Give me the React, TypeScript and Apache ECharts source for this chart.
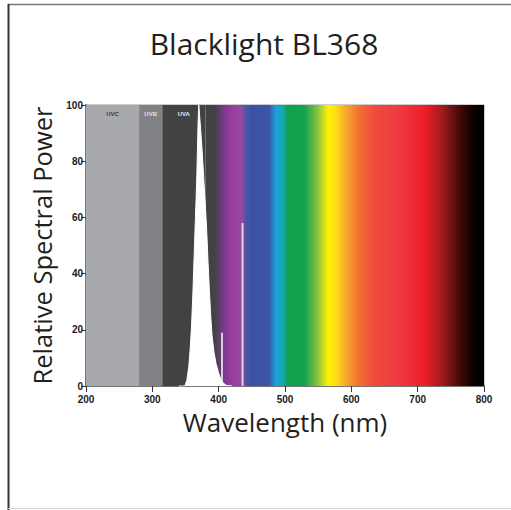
import React, { useEffect, useRef } from "react";
import * as echarts from "echarts";

const titleText = "Blacklight BL368";
const xAxisName = "Wavelength (nm)";
const yAxisName = "Relative Spectral Power";

// UV background bands
const uvBandNames = ["UVC", "UVB", "UVA"];
const uvBandStart = [200, 280, 315];
const uvBandEnd = [280, 315, 380];
const uvBandColors = ["#a7a9ac", "#808285", "#424244"];
const uvLabelColors = ["#3a3a3a", "#e4e4e4", "#e4e4e4"];

// visible spectrum background (wavelength -> colour)
const visibleStart = 380;
const visibleEnd = 800;
const visibleStopNm = [380, 394, 408, 420, 434, 442, 450, 476, 486, 496, 504, 530, 550, 565, 576, 592, 612, 636, 672, 712, 738, 762, 784, 800];
const visibleStopColor = ["#424244", "#424244", "#7a3a8e", "#9a3d9c", "#944a9e", "#4756a6", "#3c4fa3", "#3b56a7", "#1ea0db", "#17a6b4", "#0ea14c", "#14a24f", "#8cc63f", "#fff200", "#fde016", "#f9a72b", "#f36f33", "#ef4b3d", "#ee3a43", "#ed1d25", "#9a1b1e", "#4a0909", "#0a0000", "#000000"];

// lamp spectrum
const spectrumNm = [340, 349, 352, 355, 357, 359, 361, 363, 365, 367, 369, 370, 371, 372, 375, 378, 380, 382, 384, 386, 388, 390, 393, 396, 400, 404, 408, 412, 420];
const spectrumPower = [0, 0, 2, 7, 13, 21, 32, 46, 60, 74, 94, 100, 97, 94, 84, 72, 64, 55, 44, 34, 25, 18, 12, 8, 4.5, 2, 0.8, 0.2, 0];

// mercury emission lines
const hgLineNm = [405, 436];
const hgLinePower = [19, 58];

export default function App() {
  const ref = useRef<HTMLDivElement>(null);
  useEffect(() => {
    document.body.style.margin = "0";
    const chart = echarts.init(ref.current!, null, { renderer: "svg" });
    const span = visibleEnd - visibleStart;
    const gradient = {
      type: "linear",
      x: 0,
      y: 0,
      x2: 1,
      y2: 0,
      colorStops: visibleStopNm.map((nm, i) => ({ offset: (nm - visibleStart) / span, color: visibleStopColor[i] })),
    };
    const markData: any[] = uvBandNames.map((name, i) => [
      {
        name,
        xAxis: uvBandStart[i],
        itemStyle: { color: uvBandColors[i] },
        label: { color: uvLabelColors[i] },
      },
      { xAxis: uvBandEnd[i] },
    ]);
    markData.push([
      { name: "", xAxis: visibleStart, itemStyle: { color: gradient }, label: { show: false } },
      { xAxis: visibleEnd },
    ]);
    const tickFont = { fontFamily: "Liberation Sans", fontWeight: "bold", fontSize: 10, color: "#1a1a1a", lineHeight: 10 };
    chart.setOption({
      animation: false,
      backgroundColor: "#ffffff",
      title: {
        text: titleText,
        left: 259,
        textAlign: "center",
        top: 23,
        textStyle: { fontFamily: "Open Sans", fontWeight: "normal", fontSize: 30, color: "#231f20" },
      },
      grid: { left: 86, right: 27, top: 105, bottom: 124, show: true, borderColor: "#9a9a9a", borderWidth: 1 },
      xAxis: {
        type: "value",
        min: 200,
        max: 800,
        interval: 100,
        name: xAxisName,
        nameLocation: "middle",
        nameGap: 19,
        nameTextStyle: { fontFamily: "Open Sans", fontSize: 26, color: "#231f20" },
        axisLine: { show: true, onZero: false, lineStyle: { color: "#555", width: 1.5 } },
        axisTick: { show: true, length: 6, lineStyle: { color: "#333" } },
        axisLabel: { ...tickFont, margin: 8 },
        splitLine: { show: false },
      },
      yAxis: {
        type: "value",
        min: 0,
        max: 100,
        interval: 20,
        name: yAxisName,
        nameLocation: "middle",
        nameGap: 30,
        nameTextStyle: { fontFamily: "Open Sans", fontSize: 25.5, color: "#231f20" },
        axisLine: { show: true, lineStyle: { color: "#777", width: 2 } },
        axisTick: { show: true, length: 5, lineStyle: { color: "#333" } },
        axisLabel: { ...tickFont, margin: 3 },
        splitLine: { show: false },
      },
      series: [
        {
          type: "line",
          name: "bands",
          data: [],
          z: 1,
          markArea: {
            silent: true,
            label: { show: true, position: "insideTop", distance: 6, fontSize: 6, fontWeight: "bold", fontFamily: "Liberation Sans" },
            data: markData,
          },
        },
        {
          type: "line",
          name: "spectrum",
          z: 3,
          showSymbol: false,
          symbol: "none",
          lineStyle: { color: "#ffffff", width: 1 },
          areaStyle: { color: "#ffffff", opacity: 1 },
          data: spectrumNm.map((nm, i) => [nm, spectrumPower[i]]),
        },
        {
          type: "bar",
          name: "Hg lines",
          z: 4,
          barWidth: 2,
          itemStyle: { color: "rgba(255,255,255,0.75)" },
          data: hgLineNm.map((nm, i) => [nm, hgLinePower[i]]),
        },
      ],
      graphic: [
        { type: "line", shape: { x1: 8, y1: 4.5, x2: 511, y2: 4.5 }, style: { stroke: "#777", lineWidth: 1.5 } },
        { type: "line", shape: { x1: 8.5, y1: 4, x2: 8.5, y2: 510 }, style: { stroke: "#333", lineWidth: 2 } },
        { type: "line", shape: { x1: 8, y1: 508.5, x2: 511, y2: 508.5 }, style: { stroke: "#d0d0d0", lineWidth: 1 } },
      ],
    });
    return () => chart.dispose();
  }, []);
  return <div ref={ref} style={{ width: 511, height: 510 }} />;
}
